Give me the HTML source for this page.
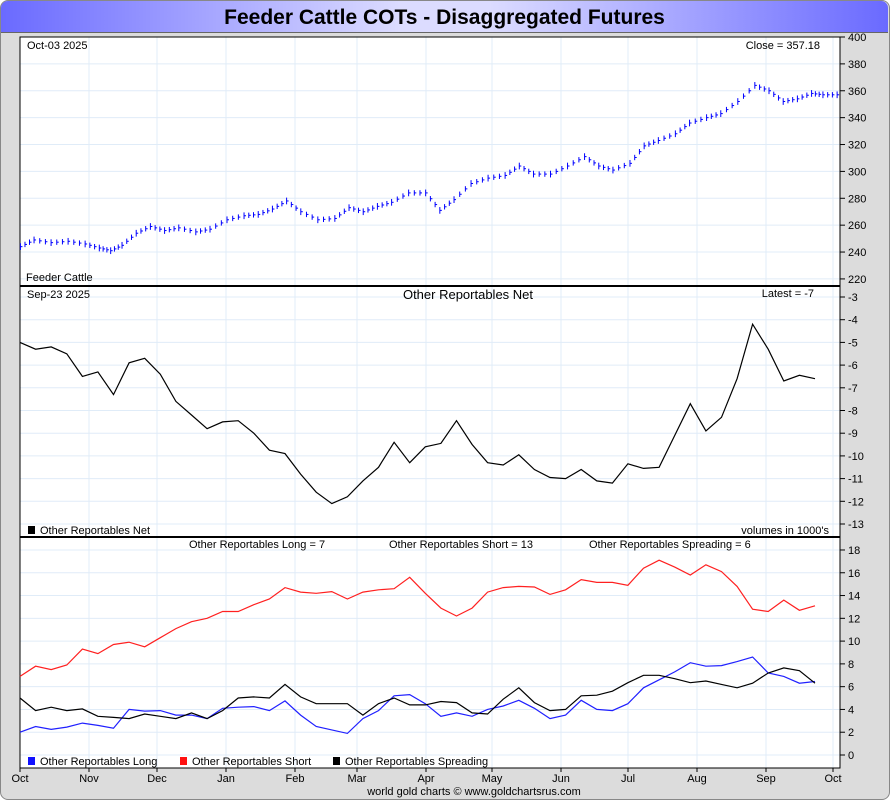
<!DOCTYPE html>
<html><head><meta charset="utf-8">
<style>
body{margin:0;width:890px;height:800px;overflow:hidden;background:#fff;font-family:"Liberation Sans",sans-serif;}
#frame{position:absolute;left:0;top:0;width:888px;height:798px;border:1px solid #888;border-radius:8px;background:#dcdcdc;}
#title{position:absolute;left:1px;top:1px;width:887px;height:31px;border-radius:7px 7px 0 0;background:linear-gradient(to right,#6a6aff,#dcdcff 45%,#dcdcff 55%,#6a6aff);border-bottom:1px solid #666;text-align:center;font-weight:bold;font-size:21px;line-height:33px;color:#000;}
svg{position:absolute;left:0;top:0;}
text{font-family:"Liberation Sans",sans-serif;font-size:11px;}
</style></head><body>
<div id="frame"></div>
<div id="title">Feeder Cattle COTs - Disaggregated Futures</div>
<svg id="chart" width="890" height="800"></svg>
<script>
const months=["Oct","Nov","Dec","Jan","Feb","Mar","Apr","May","Jun","Jul","Aug","Sep","Oct"];
const monthX=[20,89,157,226,295,357,426,492,561,628,697,766,833];
const priceTicks=[400,380,360,340,320,300,280,260,240,220];
const netTicks=[-3,-4,-5,-6,-7,-8,-9,-10,-11,-12,-13];
const volTicks=[18,16,14,12,10,8,6,4,2,0];
const priceX=[36,60,90,120,150,175,195,215,240,265,290,315,345,370,400,430,455,480,505,530,560,590,615,640,665,690,720,750,775,800,830,860,890,915,940,970,1000,1030,1055,1080,1110,1135,1160,1190,1215,1245,1270,1300,1330,1355,1380,1405,1430,1450,1475];
const priceClose=[244,249,247,248,246,243,241,245,254,259,256,258,255,257,264,267,268,272,278,270,264,265,273,270,274,277,284,284,271,279,291,295,297,304,298,298,304,311,304,301,306,319,323,328,336,340,343,352,364,360,352,354,358,357,357];
const netVals=[-5,-5.3,-5.2,-5.5,-6.5,-6.3,-7.3,-5.9,-5.7,-6.4,-7.6,-8.2,-8.8,-8.5,-8.45,-9.0,-9.75,-9.9,-10.8,-11.6,-12.1,-11.8,-11.1,-10.5,-9.4,-10.3,-9.6,-9.45,-8.45,-9.5,-10.3,-10.4,-9.95,-10.6,-10.95,-11.0,-10.6,-11.1,-11.2,-10.35,-10.55,-10.5,-9.1,-7.7,-8.9,-8.3,-6.6,-4.2,-5.3,-6.7,-6.45,-6.6];
const shortVals=[6.9,7.8,7.5,7.9,9.3,8.9,9.7,9.9,9.5,10.3,11.1,11.7,12.0,12.6,12.6,13.2,13.7,14.7,14.3,14.2,14.35,13.7,14.3,14.5,14.6,15.6,14.2,12.9,12.2,12.9,14.3,14.7,14.8,14.75,14.1,14.5,15.4,15.15,15.15,14.9,16.4,17.1,16.5,15.8,16.7,16.1,14.8,12.8,12.6,13.6,12.7,13.1];
const longVals=[2.0,2.5,2.25,2.45,2.8,2.6,2.35,4.0,3.85,3.9,3.5,3.5,3.2,4.1,4.2,4.25,3.9,4.75,3.5,2.5,2.2,1.9,3.2,3.9,5.2,5.3,4.5,3.4,3.7,3.4,4.0,4.3,4.8,4.1,3.2,3.5,4.8,4.0,3.9,4.5,5.9,6.6,7.3,8.1,7.8,7.85,8.2,8.6,7.2,6.9,6.3,6.45];
const spreadVals=[5.0,3.9,4.2,3.9,4.05,3.4,3.3,3.2,3.6,3.4,3.2,3.7,3.2,3.9,5.0,5.1,5.0,6.2,5.1,4.5,4.5,4.5,3.5,4.5,5.0,4.4,4.4,4.7,4.6,3.7,3.6,4.9,5.9,4.6,3.9,4.0,5.2,5.25,5.6,6.35,7.0,7.0,6.7,6.35,6.5,6.2,5.9,6.3,7.2,7.65,7.4,6.3];

const svg=document.getElementById('chart');
const NS='http://www.w3.org/2000/svg';
function mk(tag,attrs,parent){const e=document.createElementNS(NS,tag);for(const k in attrs)e.setAttribute(k,attrs[k]);(parent||svg).appendChild(e);return e;}
const L=20,R=840;
const yP=p=>37+(400-p)*1.344;
const yN=v=>297+(-3-v)*22.7;
const yV=v=>755-v*11.39;
const xW=i=>20+i*(815-20)/51;
const xP=zx=>zx/1.762;

let bg=mk('rect',{x:L,y:37,width:R-L,height:731,fill:'#fff',stroke:'#000','stroke-width':1});


monthX.forEach((x,i)=>{
  let g=mk('line',{x1:x,x2:x,y1:37,y2:768,stroke:'#e0ecf8','stroke-width':1});
  
  
  let tk=mk('line',{x1:x,x2:x,y1:768,y2:772,stroke:'#000'});
  
  
  let t=mk('text',{x:x,y:782,'text-anchor':'middle'});t.textContent=months[i];
  
  
});
function yTicks(ticks,fy,name){
  ticks.forEach(v=>{
    const y=fy(v);
    let g=mk('line',{x1:L,x2:R,y1:y,y2:y,stroke:'#e0ecf8'});
    
    
    let tk=mk('line',{x1:R,x2:R+5,y1:y,y2:y,stroke:'#000'});
    
    
    let t=mk('text',{x:R+8,y:y+4});t.textContent=v;
    
    
  });
}
yTicks(priceTicks,yP,'price-axis');yTicks(netTicks,yN,'net-axis');yTicks(volTicks,yV,'volume-axis');
mk('rect',{x:L,y:37,width:R-L,height:731,fill:'none',stroke:'#000'});
[286,537].forEach(y=>{let d=mk('line',{x1:L,x2:R,y1:y,y2:y,stroke:'#000','stroke-width':2});
  
  });

priceClose.forEach((c,i)=>{
  const x=xP(priceX[i]);
  let b=mk('line',{x1:x,x2:x,y1:yP(c+2.5),y2:yP(c-2.5),stroke:'#0000ff','stroke-width':1});
  
  
  let t=mk('line',{x1:x,x2:x+2,y1:yP(c),y2:yP(c),stroke:'#0000ff'});
  
  
  if(i<priceClose.length-1){
    const nx=xP(priceX[i+1]),nc=priceClose[i+1];
    [1/3,2/3].forEach(f=>{
      const mx=x+(nx-x)*f, mc=c+(nc-c)*f;
      let b2=mk('line',{x1:mx,x2:mx,y1:yP(mc+2),y2:yP(mc-2),stroke:'#0000ff','stroke-width':1});
      
      
      let t2=mk('line',{x1:mx,x2:mx+2,y1:yP(mc),y2:yP(mc),stroke:'#0000ff'});
      
      
    });
  }
});
function line(vals,fy,color,name){
  const pts=vals.map((v,i)=>xW(i).toFixed(1)+','+fy(v).toFixed(1)).join(' ');
  let p=mk('polyline',{points:pts,fill:'none',stroke:color,'stroke-width':1.2});
  
  
}
line(netVals,yN,'#000','net-line');
line(shortVals,yV,'#ff2020','short-line');
line(longVals,yV,'#2020ff','long-line');
line(spreadVals,yV,'#000','spreading-line');

function txt(x,y,s,name,anchor,size){let t=mk('text',{x:x,y:y,'text-anchor':anchor||'start'});if(size)t.setAttribute('style','font-size:'+size+'px');t.textContent=s;
  
  return t;}
txt(27,49,'Oct-03  2025','price-date');
txt(820,49,'Close = 357.18','price-close-label','end');
txt(26,281,'Feeder Cattle','price-panel-label');
txt(27,298,'Sep-23  2025','net-date');
txt(468,299,'Other Reportables Net','net-panel-title','middle',13);
txt(814,297,'Latest = -7','net-latest-label','end');
txt(829,534,'volumes in 1000\'s','volume-units','end');
txt(189,548,'Other Reportables Long = 7','long-value-label');
txt(389,548,'Other Reportables Short = 13','short-value-label');
txt(589,548,'Other Reportables Spreading = 6','spreading-value-label');
txt(474,795,'world gold charts \u00a9 www.goldchartsrus.com','footer-credit','middle');
function leg(x,y,color,label,name){
  let r=mk('rect',{x:x,y:y-8,width:7,height:8,fill:color});
  
  
  txt(x+12,y,label,name);
}
leg(28,534,'#000','Other Reportables Net','legend-net');
leg(28,765,'#1010ff','Other Reportables Long','legend-long');
leg(180,765,'#ff1010','Other Reportables Short','legend-short');
leg(333,765,'#000','Other Reportables Spreading','legend-spreading');
</script>
</body></html>
